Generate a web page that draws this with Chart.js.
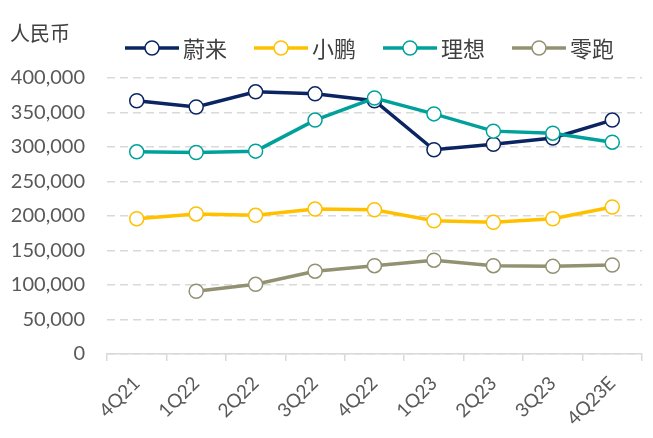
<!DOCTYPE html>
<html>
<head>
<meta charset="utf-8">
<script src="https://cdn.jsdelivr.net/npm/chart.js@4"></script>
<style>
  html, body { margin: 0; padding: 0; background: #fff; }
  #wrap { width: 653px; height: 438px; }
</style>
</head>
<body>
<div id="wrap"><canvas id="chart"></canvas></div>
<script>
// quarters on the x axis
const quarters = ['4Q21', '1Q22', '2Q22', '3Q22', '4Q22', '1Q23', '2Q23', '3Q23', '4Q23E'];
// values
const nio = [367000, 358000, 380000, 377000, 367000, 296000, 304000, 313000, 339000];
const xpeng = [196000, 203000, 201000, 210000, 209000, 193000, 191000, 196000, 213000];
const lixiang = [293000, 292000, 294000, 339000, 371000, 348000, 323000, 320000, 307000];
const leap = [null, 91000, 101000, 120000, 128000, 136000, 128000, 127000, 129000];
const seriesNames = ['蔚来', '小鹏', '理想', '零跑'];
const unitLabel = '人民币';

const colors = ['#0b2562', '#ffc000', '#00a19a', '#929272'];
const latin = 'Lato, "Open Sans", sans-serif';
const cjk = '"Noto Sans CJK SC", sans-serif';

function makeSet(label, data, color, order) {
    return {
        label: label,
        data: data,
        borderColor: color,
        backgroundColor: color,
        borderWidth: 3.5,
        pointRadius: 7,
        pointHoverRadius: 7,
        pointBackgroundColor: '#fff',
        pointBorderColor: color,
        pointBorderWidth: 1.5,
        tension: 0,
        order: order
    };
}

// legend and unit label drawn by hand so they sit where the picture has them
const topText = {
    id: 'topText',
    afterDraw(chart) {
        const ctx = chart.ctx;
        ctx.save();
        ctx.fillStyle = '#404040';
        ctx.font = '20px ' + cjk;
        ctx.textBaseline = 'middle';
        ctx.textAlign = 'left';
        ctx.fillText(unitLabel, 10, 33);

        let x = 125;
        const y = 48;
        ctx.font = '22px ' + cjk;
        chart.data.datasets.forEach(ds => {
            ctx.strokeStyle = ds.borderColor;
            ctx.lineWidth = 3.5;
            ctx.beginPath();
            ctx.moveTo(x, y);
            ctx.lineTo(x + 54, y);
            ctx.stroke();
            ctx.beginPath();
            ctx.arc(x + 27, y, 7, 0, Math.PI * 2);
            ctx.fillStyle = '#fff';
            ctx.fill();
            ctx.lineWidth = 1.5;
            ctx.stroke();
            ctx.fillStyle = '#404040';
            ctx.fillText(ds.label, x + 58, y + 1);
            x += 58 + ctx.measureText(ds.label).width + 27;
        });
        ctx.restore();
    }
};

const ctx = document.getElementById('chart').getContext('2d');
new Chart(ctx, {
    type: 'line',
    data: {
        labels: quarters,
        datasets: [
            makeSet(seriesNames[0], nio, colors[0], 1),
            makeSet(seriesNames[1], xpeng, colors[1], 2),
            makeSet(seriesNames[2], lixiang, colors[2], 0),
            makeSet(seriesNames[3], leap, colors[3], 3)
        ]
    },
    options: {
        responsive: true,
        maintainAspectRatio: false,
        animation: false,
        layout: {
            padding: { top: 78, right: 11, left: 0, bottom: 0 }
        },
        scales: {
            x: {
                offset: true,
                grid: {
                    display: true,
                    offset: true,
                    drawOnChartArea: false,
                    drawTicks: true,
                    tickLength: 7,
                    color: '#d9d9d9',
                    lineWidth: 1.5
                },
                border: { display: true, color: '#d9d9d9', width: 1.5 },
                ticks: {
                    maxRotation: 45,
                    minRotation: 45,
                    autoSkip: false,
                    padding: 11,
                    color: '#595959',
                    font: { family: latin, size: 19 }
                },
                afterFit(scale) { scale.height = 84; }
            },
            y: {
                min: 0,
                max: 400000,
                ticks: {
                    stepSize: 50000,
                    padding: 22,
                    color: '#595959',
                    font: { family: latin, size: 20 },
                    callback: v => v.toLocaleString('en-US')
                },
                grid: {
                    color: '#d9d9d9',
                    lineWidth: 1.5,
                    drawTicks: false
                },
                border: { display: false, dash: [8, 5] },
                afterFit(scale) { scale.width = 107; }
            }
        },
        plugins: {
            legend: { display: false },
            tooltip: { enabled: false }
        }
    },
    plugins: [topText]
});
</script>
</body>
</html>
